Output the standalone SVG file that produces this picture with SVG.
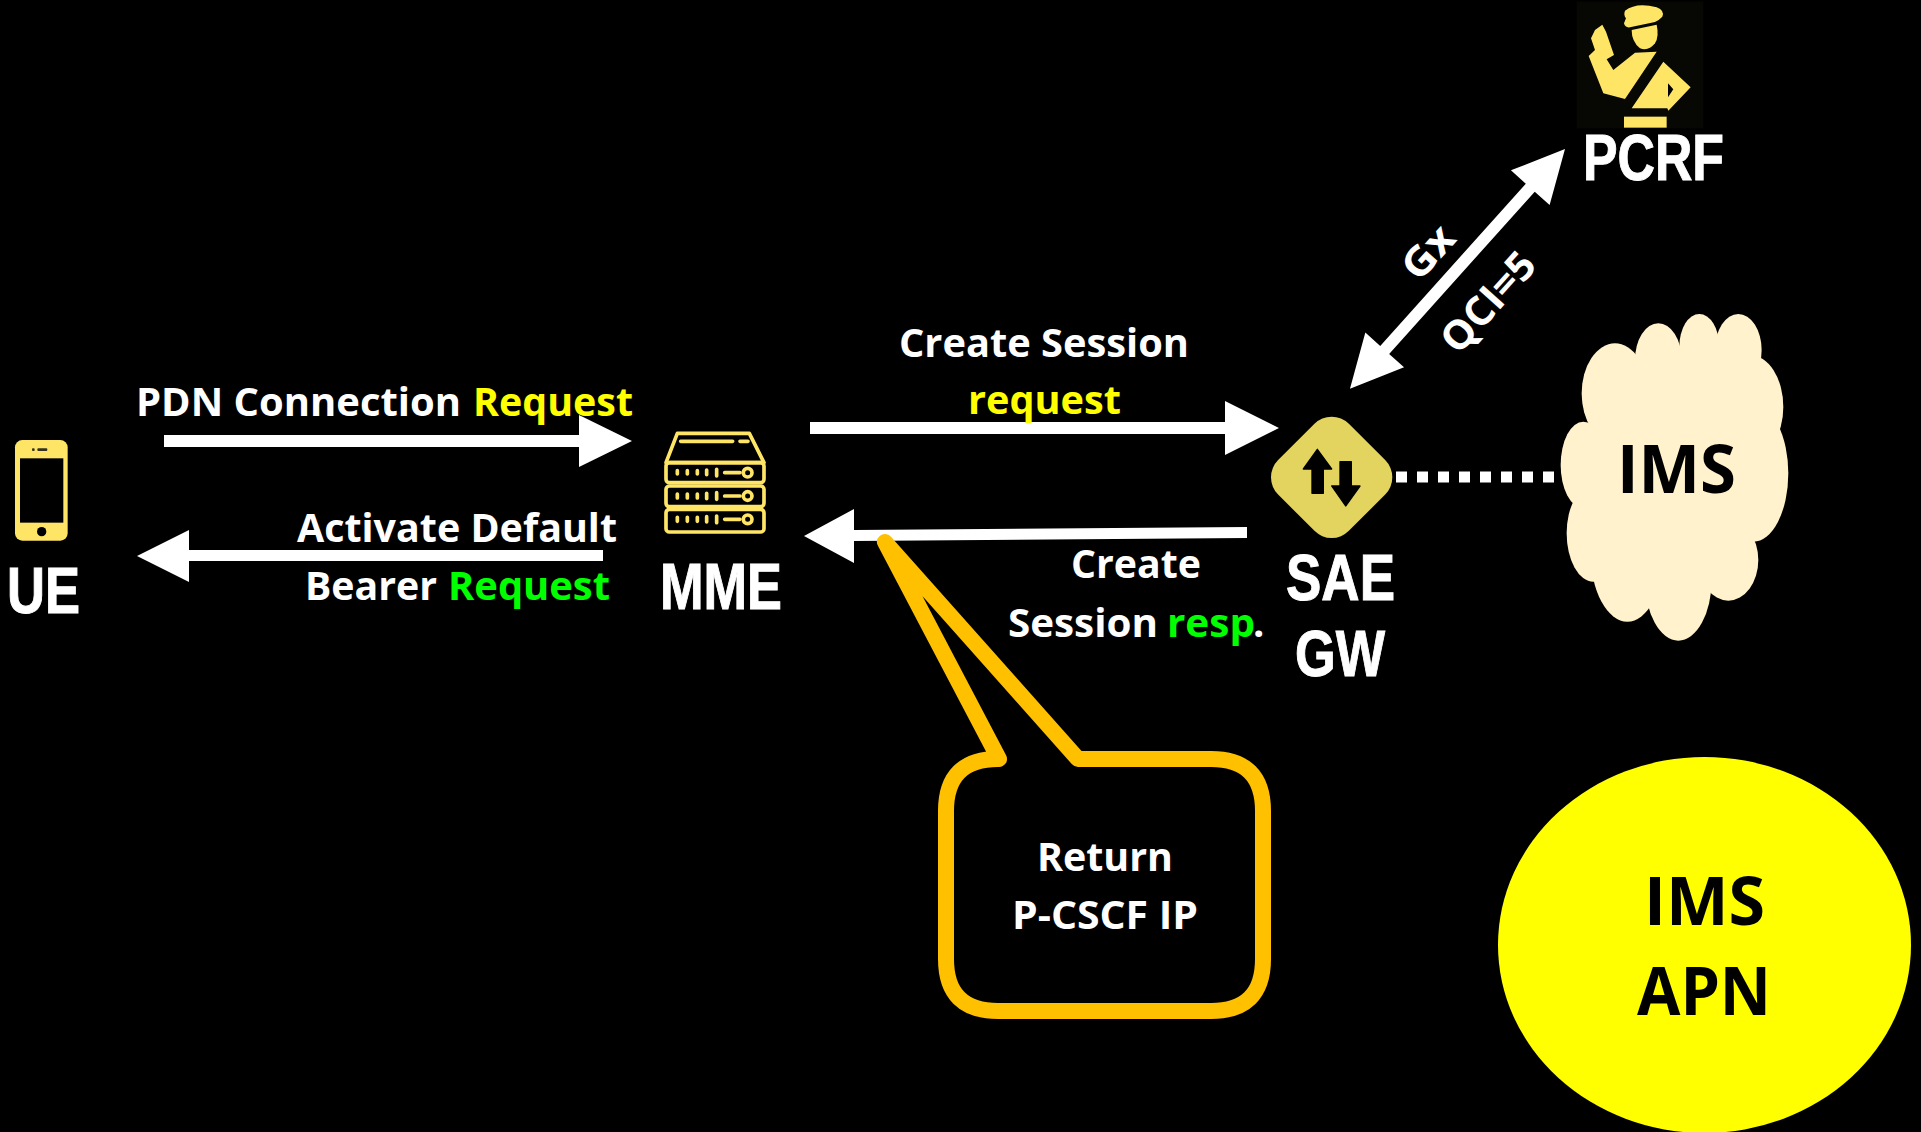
<svg xmlns="http://www.w3.org/2000/svg" width="1921" height="1132" viewBox="0 0 1921 1132">
<style>
text{font-family:"Open Sans","Lato",sans-serif;font-weight:700;fill:#fff;font-variant-ligatures:none}
.m{font-size:40px}
.n{font-family:"Liberation Sans",Arial,sans-serif;font-size:64px;stroke:#fff;stroke-width:1}
.k{fill:#000;font-size:66px}
.y{fill:#ffff00}.g{fill:#00ff00}
.i{fill:#ffe566}
.s{fill:none;stroke:#ffe566;stroke-width:11;stroke-linejoin:round;stroke-linecap:round}
.a{fill:#fff}
</style>
<rect width="1921" height="1132" fill="#000"/>
<g id="connectors">
<polygon class="a" points="164,435 579,435 579,415 632,441 579,467 579,447 164,447"/>
<polygon class="a" points="810,422 1225,422 1225,401 1279,428 1225,455 1225,434 810,434"/>
<polygon class="a" points="603,550 189,550 189,530 137,556 189,582 189,561 603,561"/>
<polygon class="a" points="1247,527 854,530 854,509 804,536 854,563 854,541 1247,538"/>
<g transform="translate(1565,149) rotate(131.9)"><polygon class="a" points="0,0 52,-26 52,-6 270,-6 270,-26 322,0 270,26 270,6 52,6 52,26"/></g>
<line x1="1396" y1="477" x2="1555" y2="477" stroke="#fff" stroke-width="11" stroke-dasharray="11 10"/>
</g>
<g id="ue">
<g transform="translate(0,420) scale(.3333)">
<rect class="i" x="45" y="60" width="158" height="302" rx="22"/>
<rect x="60" y="115" width="130" height="193" fill="#000"/>
<rect x="112" y="85" width="30" height="8" rx="3" fill="#332"/><rect x="96" y="85" width="8" height="8" rx="3" fill="#332"/>
<circle cx="125" cy="335" r="14" fill="#000"/>
</g>
<text class="n" x="7" y="613" textLength="73" lengthAdjust="spacingAndGlyphs">UE</text>
</g>
<g id="mme">
<g transform="translate(640,410) scale(.3333)">
<path class="s" d="M78,158 L112,70 L328,70 L372,158 Z"/>
<rect class="s" x="78" y="158" width="294" height="60" rx="10"/>
<rect class="s" x="78" y="228" width="294" height="62" rx="10"/>
<rect class="s" x="78" y="298" width="294" height="68" rx="10"/>
<path class="s" stroke-width="14" d="M122,94 H278 M300,94 H324"/>
<path class="s" stroke-width="12" d="M112,182 V192 M142,182 V192 M172,182 V192 M200,180 V194 M230,178 V198 M254,188 H300 M112,252 V264 M142,252 V264 M172,252 V264 M200,250 V266 M230,248 V268 M254,258 H300 M112,322 V334 M142,322 V334 M172,322 V334 M200,320 V336 M230,318 V338 M254,328 H300"/>
<circle class="s" cx="323" cy="188" r="13"/><circle class="s" cx="323" cy="258" r="13"/><circle class="s" cx="323" cy="328" r="13"/>
</g>
<text class="n" x="660" y="609" textLength="122" lengthAdjust="spacingAndGlyphs">MME</text>
</g>
<g id="sae-gw">
<g transform="translate(1250,400) scale(.3333)">
<polygon points="245,123 354,232 245,341 136,232" fill="#e2d45f" stroke="#e2d45f" stroke-width="146" stroke-linejoin="round"/>
<path d="M202,148 L245,207 L220,207 L220,280 L186,280 L186,207 L160,207 Z M287,318 L330,258 L304,258 L304,185 L270,185 L270,258 L245,258 Z" fill="#000" stroke="#000" stroke-width="4" stroke-linejoin="round"/>
</g>
<text class="n" x="1286" y="600" textLength="109" lengthAdjust="spacingAndGlyphs">SAE</text>
<text class="n" x="1295" y="676" textLength="90" lengthAdjust="spacingAndGlyphs">GW</text>
</g>
<g id="pcrf">
<g transform="translate(1540,0) scale(.3333)">
<rect x="110" y="5" width="380" height="380" fill="#070704"/>
<path class="i" d="M255,32 Q290,5 350,22 Q375,32 367,50 Q358,60 345,66 L270,82 Q255,84 252,70 L258,55 Q250,45 255,32 Z"/>
<path class="i" d="M275,90 L350,74 Q358,110 345,130 Q325,155 300,145 Q275,125 275,90 Z"/>
<path class="i" d="M146,168 L165,150 L153,115 L165,90 L187,74 L198,95 L222,165 L200,178 L220,210 L285,158 L350,155 L255,297 L190,280 Z"/>
<path class="i" d="M370,185 L452,262 L385,332 L382,325 L275,325 Z"/>
<polygon points="384,250 400,268 384,292" fill="#000"/>
<rect class="i" x="252" y="350" width="128" height="33"/>
</g>
<text class="n" x="1583" y="180" textLength="141" lengthAdjust="spacingAndGlyphs">PCRF</text>
</g>
<g id="ims-cloud">
<g transform="translate(1540,300) scale(.3333)" fill="#fff2cc">
<ellipse cx="225" cy="280" rx="100" ry="150"/><ellipse cx="355" cy="180" rx="70" ry="110"/><ellipse cx="478" cy="140" rx="60" ry="98"/><ellipse cx="595" cy="150" rx="70" ry="108"/><ellipse cx="630" cy="320" rx="100" ry="155"/><ellipse cx="640" cy="520" rx="105" ry="205"/><ellipse cx="565" cy="780" rx="90" ry="122"/><ellipse cx="415" cy="840" rx="100" ry="182"/><ellipse cx="262" cy="760" rx="110" ry="205"/><ellipse cx="160" cy="700" rx="80" ry="145"/><ellipse cx="130" cy="495" rx="68" ry="130"/><rect x="180" y="230" width="450" height="570"/><rect x="330" y="140" width="280" height="120"/>
</g>
<text class="k" x="1617" y="493" textLength="119" lengthAdjust="spacingAndGlyphs">IMS</text>
</g>
<g id="ims-apn">
<ellipse cx="1704.5" cy="945" rx="206.5" ry="188" fill="#ffff00"/>
<text class="k" x="1644" y="925" textLength="121" lengthAdjust="spacingAndGlyphs">IMS</text>
<text class="k" x="1637" y="1015" textLength="134" lengthAdjust="spacingAndGlyphs">APN</text>
</g>
<g id="callout">
<path d="M885,542 L999,759 H998 Q946,759 946,811 V959 Q946,1011 998,1011 H1211 Q1263,1011 1263,959 V811 Q1263,759 1211,759 H1078 Z" fill="none" stroke="#ffc000" stroke-width="16" stroke-linejoin="round"/>
<text class="m" x="1037" y="871" textLength="136" lengthAdjust="spacingAndGlyphs">Return</text>
<text class="m" x="1012" y="929" textLength="186" lengthAdjust="spacingAndGlyphs">P-CSCF IP</text>
</g>
<g id="labels">
<text class="m" x="136" y="416" textLength="325" lengthAdjust="spacingAndGlyphs">PDN Connection</text>
<text class="m y" x="473" y="416" textLength="160" lengthAdjust="spacingAndGlyphs">Request</text>
<text class="m" x="899" y="357" textLength="290" lengthAdjust="spacingAndGlyphs">Create Session</text>
<text class="m y" x="968" y="414" textLength="153" lengthAdjust="spacingAndGlyphs">request</text>
<text class="m" x="297" y="542" textLength="320" lengthAdjust="spacingAndGlyphs">Activate Default</text>
<text class="m" x="305" y="600" textLength="132" lengthAdjust="spacingAndGlyphs">Bearer</text>
<text class="m g" x="448" y="600" textLength="162" lengthAdjust="spacingAndGlyphs">Request</text>
<text class="m" x="1071" y="578" textLength="130" lengthAdjust="spacingAndGlyphs">Create</text>
<text class="m" x="1008" y="637" textLength="150" lengthAdjust="spacingAndGlyphs">Session</text>
<text class="m g" x="1167" y="637" textLength="88" lengthAdjust="spacingAndGlyphs">resp</text>
<text class="m" x="1253" y="637">.</text>
<text class="m" transform="translate(1428,252) rotate(-48)" text-anchor="middle" y="14" textLength="58" lengthAdjust="spacingAndGlyphs">Gx</text>
<text class="m" transform="translate(1488,302) rotate(-48)" text-anchor="middle" y="14" textLength="120" lengthAdjust="spacingAndGlyphs">QCI=5</text>
</g>
</svg>
